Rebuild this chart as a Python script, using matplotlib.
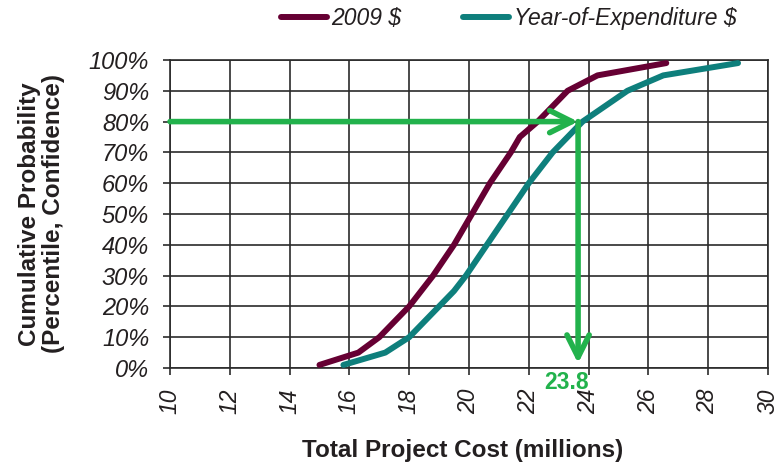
import matplotlib
matplotlib.use("Agg")
import matplotlib.pyplot as plt

plt.rcParams['font.family'] = ['Liberation Sans', 'DejaVu Sans']

# Cumulative probability (%) vs total project cost (millions)
prob_2009 = [1, 5, 10, 20, 30, 40, 50, 60, 70, 75, 80, 90, 95, 99]
cost_2009 = [15.0, 16.3, 17.0, 18.0, 18.8, 19.5, 20.1, 20.7, 21.4, 21.7, 22.3, 23.3, 24.3, 26.6]

prob_yoe = [1, 5, 10, 25, 30, 40, 50, 60, 70, 80, 90, 95, 99]
cost_yoe = [15.8, 17.2, 18.0, 19.5, 19.9, 20.6, 21.3, 22.0, 22.8, 23.8, 25.3, 26.5, 29.0]

target_pct = 80
target_cost = 23.8

x_ticks = list(range(10, 31, 2))
y_ticks = list(range(0, 101, 10))

maroon = '#660033'
teal = '#0E7F7C'
green = '#22B24C'
grid_c = '#2b2b2b'
text_c = '#231F20'

fig = plt.figure(figsize=(7.82, 4.65), dpi=100)
ax = fig.add_axes([0.2174, 0.2086, 0.7646, 0.6624])

ax.plot(cost_2009, prob_2009, color=maroon, lw=4.3, solid_capstyle='round',
        solid_joinstyle='round', label='2009 $', zorder=3)
ax.plot(cost_yoe, prob_yoe, color=teal, lw=4.3, solid_capstyle='round',
        solid_joinstyle='round', label='Year-of-Expenditure $', zorder=3)

# Read-off arrows at the 80% confidence level
arrow_x = target_cost - 0.15
arrow_kw = dict(arrowstyle='->,head_length=1.6,head_width=0.8', color=green, lw=4.0,
                shrinkA=0, shrinkB=0, capstyle='round', joinstyle='round')
ax.annotate('', xy=(arrow_x, target_pct), xytext=(10, target_pct),
            arrowprops=arrow_kw, zorder=4)
ax.annotate('', xy=(arrow_x, 1.5), xytext=(arrow_x, target_pct),
            arrowprops=arrow_kw, zorder=4)
ax.text(target_cost - 0.55, -1.0, f'{target_cost}', color=green, fontsize=16.5,
        fontweight='bold', ha='center', va='top', clip_on=False, zorder=5)

ax.set_xlim(10, 30)
ax.set_ylim(0, 100)
ax.set_xticks(x_ticks)
ax.set_yticks(y_ticks)
ax.set_xticklabels([str(t) for t in x_ticks], rotation=90, fontsize=16.5,
                   fontstyle='italic', color=text_c)
ax.set_yticklabels([f'{t}%' for t in y_ticks], fontsize=17, fontstyle='italic',
                   color=text_c)
ax.tick_params(axis='y', length=5, direction='out', color=grid_c, width=1.2, pad=10)
ax.tick_params(axis='x', length=5, direction='out', color=grid_c, width=1.2, pad=10)

ax.grid(True, color=grid_c, lw=1.2)
ax.set_axisbelow(True)
for s in ax.spines.values():
    s.set_color(grid_c)
    s.set_linewidth(1.2)

ax.set_xlabel('Total Project Cost (millions)', fontsize=17.5, fontweight='bold',
              color=text_c)
ax.xaxis.set_label_coords(0.49, -0.23)
ax.set_ylabel('Cumulative Probability\n(Percentile, Confidence)', fontsize=17.5,
              fontweight='bold', color=text_c, linespacing=1.05)
ax.yaxis.set_label_coords(-0.175, 0.5)

leg = ax.legend(loc='center', bbox_to_anchor=(0.566, 1.135), ncol=2, frameon=False,
                prop={'size': 16.5, 'style': 'italic'}, handlelength=2.0,
                handletextpad=0.2, columnspacing=2.7, borderaxespad=0, borderpad=0)
for t in leg.get_texts():
    t.set_color(text_c)

fig.savefig('out.png', dpi=100)
